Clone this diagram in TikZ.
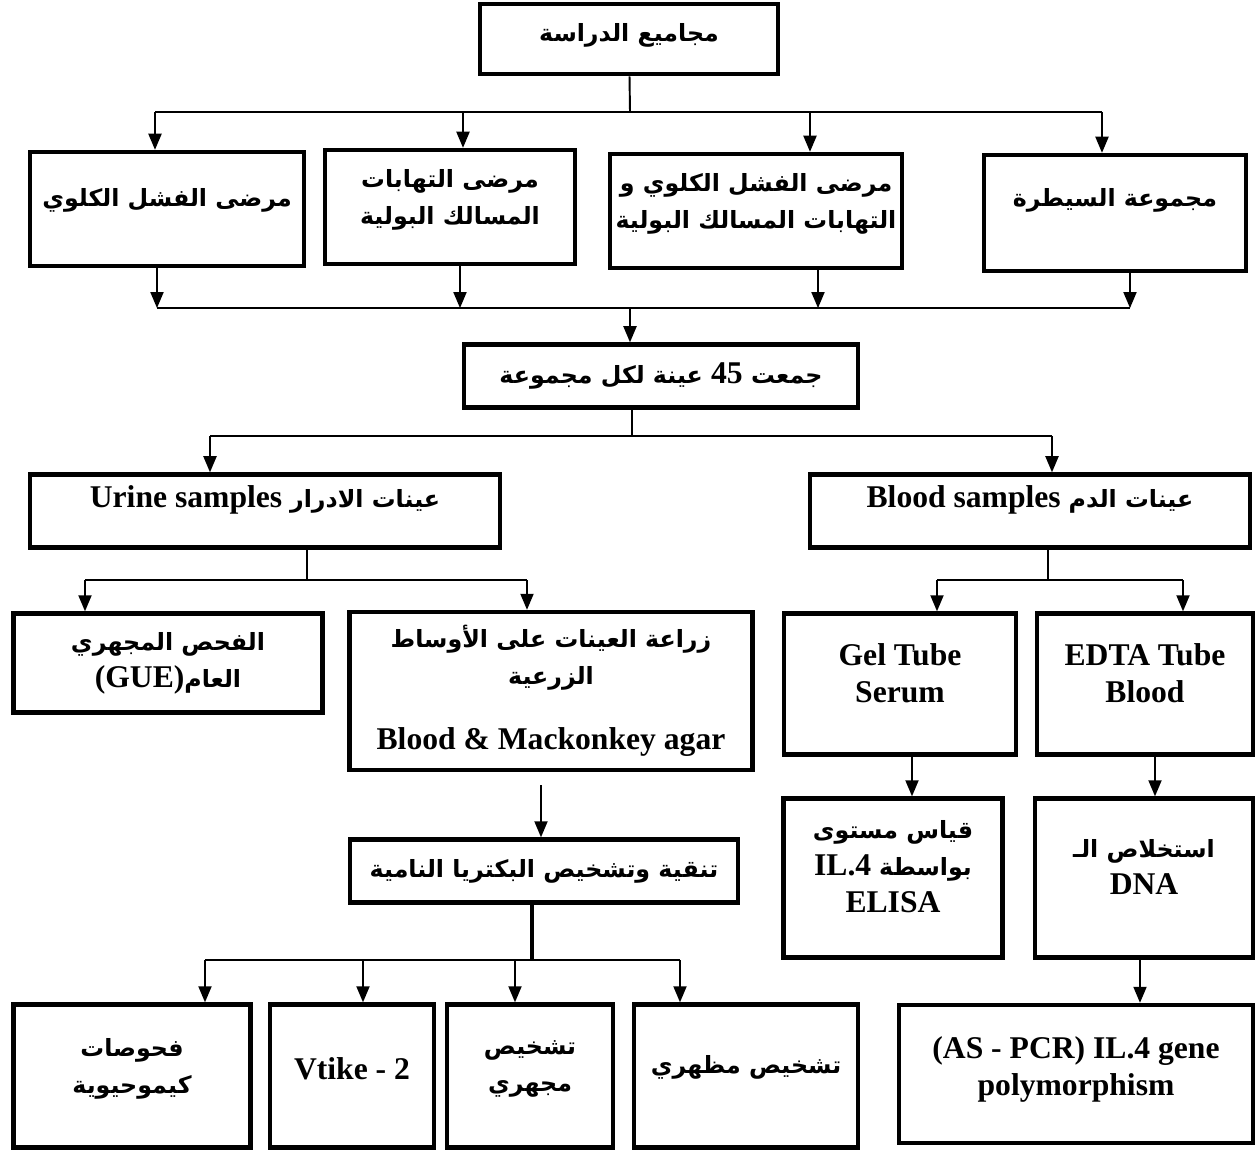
\documentclass[tikz,border=0pt]{standalone}
\usepackage{fontspec}
\usepackage{tikz}
\usetikzlibrary{arrows}
\setmainfont{Liberation Serif}
\newfontfamily\arabicfont[Script=Arabic,Scale=0.75]{DejaVu Sans}
\TeXXeTstate=1
\newcommand{\artext}[1]{{\arabicfont\beginR #1\endR}}
\newcommand{\lift}[1][-8pt]{\\[#1]\mbox{}}

\begin{document}
\begin{tikzpicture}[x=0.02cm,y=-0.02cm,>=triangle 45,line width=1.1pt,
  main node/.style={rectangle,draw,line width=2.6pt,align=center,inner sep=2pt,
    font=\bfseries\fontsize{18}{21}\selectfont}]

  \useasboundingbox (0,0) rectangle (1258,1155);

  \node[main node,minimum width=5.96cm,minimum height=1.40cm] (1) at (629,39) {\artext{مجاميع الدراسة}\lift[-14pt]};

  \node[main node,minimum width=5.48cm,minimum height=2.28cm] (2) at (167,209) {\artext{مرضى الفشل الكلوي}\lift};
  \node[main node,minimum width=5.00cm,minimum height=2.28cm] (3) at (450,207) {\artext{مرضى التهابات}\\\artext{المسالك البولية}\lift[-10pt]};
  \node[main node,minimum width=5.84cm,minimum height=2.28cm] (4) at (756,211) {\artext{مرضى الفشل الكلوي و}\\\artext{التهابات المسالك البولية}\lift[-10pt]};
  \node[main node,minimum width=5.24cm,minimum height=2.32cm] (5) at (1115,213) {\artext{مجموعة السيطرة}\lift[-3pt]};

  \node[main node,minimum width=7.88cm,minimum height=1.26cm] (6) at (661,376) {\artext{جمعت \beginL{\rmfamily 45}\endL{} عينة لكل مجموعة}};

  \node[main node,minimum width=9.40cm,minimum height=1.46cm] (7) at (265,511) {Urine samples \artext{عينات الادرار}\lift[-5pt]};
  \node[main node,minimum width=8.80cm,minimum height=1.46cm] (8) at (1030,511) {Blood samples \artext{عينات الدم}\lift[-5pt]};

  \node[main node,minimum width=6.18cm,minimum height=1.98cm] (9) at (168,663) {\artext{الفحص المجهري}\\(GUE)\artext{العام}};
  \node[main node,minimum width=8.06cm,minimum height=3.16cm] (10) at (551,691) {\artext{زراعة العينات على الأوساط}\\\artext{الزرعية}\\[16pt]Blood \& Mackonkey agar};
  \node[main node,minimum width=4.64cm,minimum height=2.82cm] (11) at (900,684) {Gel Tube\\Serum\lift};
  \node[main node,minimum width=4.32cm,minimum height=2.82cm] (12) at (1145,684) {EDTA Tube\\Blood\lift};

  \node[main node,minimum width=7.76cm,minimum height=1.26cm] (13) at (544,871) {\artext{تنقية وتشخيص البكتريا النامية}};
  \node[main node,minimum width=4.38cm,minimum height=3.18cm] (14) at (893,878) {\artext{قياس مستوى}\\IL.4 \artext{بواسطة}\\ELISA\lift};
  \node[main node,minimum width=4.36cm,minimum height=3.18cm] (15) at (1144,878) {\artext{استخلاص الـ}\\DNA\lift};

  \node[main node,minimum width=7.08cm,minimum height=2.76cm] (16) at (1076,1074) {(AS - PCR) IL.4 gene\\polymorphism\lift[-12pt]};
  \node[main node,minimum width=4.74cm,minimum height=2.86cm] (17) at (132,1076) {\artext{فحوصات}\\\artext{كيموحيوية}\lift[-10pt]};
  \node[main node,minimum width=3.28cm,minimum height=2.86cm] (18) at (352,1076) {Vtike - 2\lift[-12pt]};
  \node[main node,minimum width=3.32cm,minimum height=2.86cm] (19) at (530,1076) {\artext{تشخيص}\\\artext{مجهري}\lift[-10pt]};
  \node[main node,minimum width=4.48cm,minimum height=2.86cm] (20) at (746,1076) {\artext{تشخيص مظهري}\lift};

  % groups
  \coordinate (t) at (630,112);
  \coordinate (t2) at (155,112);
  \coordinate (t3) at (463,112);
  \coordinate (t4) at (810,112);
  \coordinate (t5) at (1102,112);
  \draw (1) -- (t);
  \draw (t2) -- (t5);
  \path[->]
    (t2) edge (2.north -| t2)
    (t3) edge (3.north -| t3)
    (t4) edge (4.north -| t4)
    (t5) edge (5.north -| t5);

  % samples
  \coordinate (b) at (630,308);
  \coordinate (b2) at (157,308);
  \coordinate (b3) at (460,308);
  \coordinate (b4) at (818,308);
  \coordinate (b5) at (1130,308);
  \path[->]
    (2.south -| b2) edge (b2)
    (3.south -| b3) edge (b3)
    (4.south -| b4) edge (b4)
    (5.south -| b5) edge (b5);
  \draw (b2) -- (b5);
  \draw[->] (b) -- (6.north -| b);

  \coordinate (c) at (632,436);
  \coordinate (c7) at (210,436);
  \coordinate (c8) at (1052,436);
  \draw (6.south -| c) -- (c);
  \draw (c7) -- (c8);
  \path[->]
    (c7) edge (7.north -| c7)
    (c8) edge (8.north -| c8);

  % urine
  \coordinate (d) at (307,580);
  \coordinate (d9) at (85,580);
  \coordinate (d10) at (527,580);
  \draw (7.south -| d) -- (d);
  \draw (d9) -- (d10);
  \path[->]
    (d9) edge (9.north -| d9)
    (d10) edge (10.north -| d10);

  % blood
  \coordinate (e) at (1048,580);
  \coordinate (e11) at (937,580);
  \coordinate (e12) at (1183,580);
  \draw (8.south -| e) -- (e);
  \draw (e11) -- (e12);
  \path[->]
    (e11) edge (11.north -| e11)
    (e12) edge (12.north -| e12);

  \coordinate (f) at (541,785);
  \coordinate (g) at (912,0);
  \coordinate (k) at (1155,0);
  \coordinate (m) at (1140,0);
  \path[->]
    (f) edge (13.north -| f)
    (11.south -| g) edge (14.north -| g)
    (12.south -| k) edge (15.north -| k)
    (15.south -| m) edge (16.north -| m);

  % bacteria
  \coordinate (h) at (532,960);
  \coordinate (h17) at (205,960);
  \coordinate (h18) at (363,960);
  \coordinate (h19) at (515,960);
  \coordinate (h20) at (680,960);
  \draw[line width=2pt] (13.south -| h) -- (h);
  \draw (h17) -- (h20);
  \path[->]
    (h17) edge (17.north -| h17)
    (h18) edge (18.north -| h18)
    (h19) edge (19.north -| h19)
    (h20) edge (20.north -| h20);
\end{tikzpicture}
\end{document}
